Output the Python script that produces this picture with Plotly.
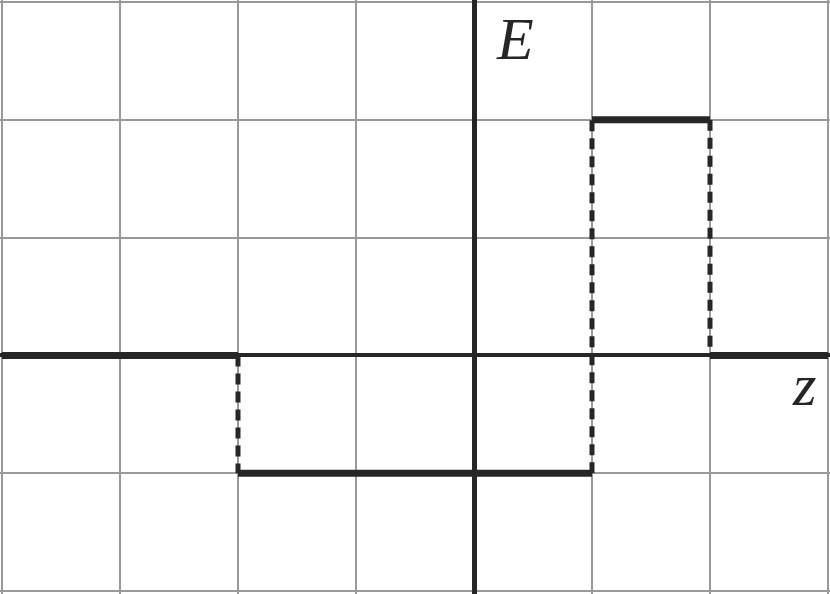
import plotly.graph_objects as go

# piecewise field: E is constant between the z edges
z_edges = [-4, -2, 1, 2, 3]
e_values = [0, -1, 2, 0]

dark = "#262626"
fig = go.Figure()

# solid horizontal pieces
for i in range(len(e_values)):
    fig.add_trace(go.Scatter(x=[z_edges[i], z_edges[i + 1]], y=[e_values[i], e_values[i]],
                             mode="lines", line=dict(color=dark, width=7), hoverinfo="skip"))

# dashed jumps between pieces
for i in range(1, len(e_values)):
    fig.add_trace(go.Scatter(x=[z_edges[i], z_edges[i]], y=[e_values[i - 1], e_values[i]],
                             mode="lines", line=dict(color=dark, width=5, dash="11px,7px"),
                             hoverinfo="skip"))

fig.add_annotation(x=0.35, y=2.69, text="<i>E</i>", showarrow=False,
                   font=dict(family="Liberation Serif", size=60, color=dark))
fig.add_annotation(x=2.8, y=-0.25, text="<i>z</i>", showarrow=False,
                   font=dict(family="Liberation Serif", size=60, color=dark))

fig.update_layout(
    width=830, height=594, showlegend=False,
    margin=dict(l=0, r=0, t=0, b=0),
    paper_bgcolor="white", plot_bgcolor="white",
)
fig.update_xaxes(range=[-4 - 2 / 118, 3 + 2 / 118], dtick=1, tick0=0,
                 showgrid=True, gridcolor="#9a9a9a", gridwidth=2,
                 zeroline=True, zerolinecolor=dark, zerolinewidth=5,
                 showticklabels=False, ticks="")
fig.update_yaxes(range=[-2 - 3 / 118, 3 + 2 / 118], dtick=1, tick0=0,
                 showgrid=True, gridcolor="#9a9a9a", gridwidth=2,
                 zeroline=True, zerolinecolor=dark, zerolinewidth=4,
                 showticklabels=False, ticks="")

fig.write_html("out.html", config={"displayModeBar": False},
               post_script="document.body.style.margin='0';")
